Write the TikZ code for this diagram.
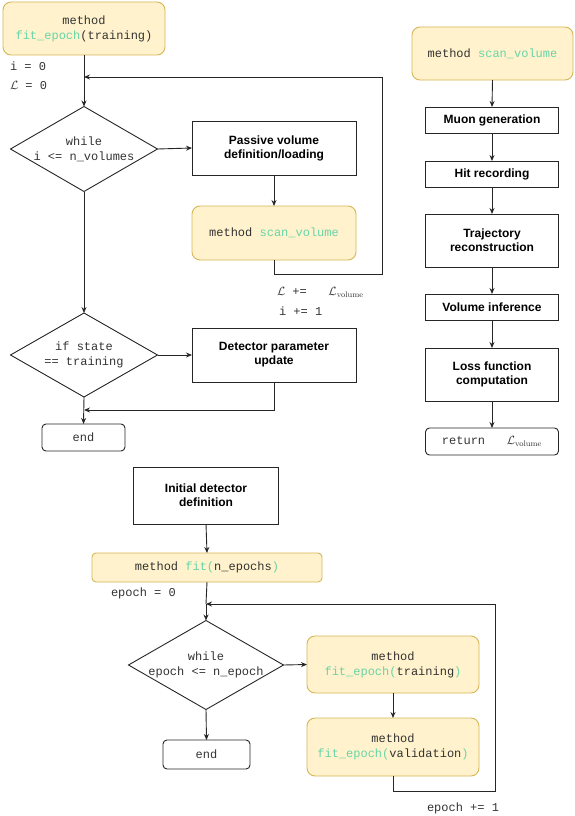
\documentclass[tikz,border=0pt]{standalone}
\usepackage[no-math]{fontspec}
\setmainfont{Liberation Sans}
\setsansfont{Liberation Sans}
\setmonofont{Liberation Mono}
\usetikzlibrary{shapes.geometric,arrows.meta}
\definecolor{methodfill}{HTML}{FFF2CC}
\definecolor{methodline}{HTML}{D6B656}
\definecolor{fngreen}{HTML}{67D5A8}
\definecolor{codegray}{HTML}{333333}
\newcommand{\fname}[1]{\textcolor{fngreen}{#1}}
\begin{document}
\begin{tikzpicture}[x=1pt,y=-1pt,
  every node/.style={inner sep=0pt,outer sep=0pt},
  line/.style={draw=black!85,line width=0.9pt},
  arrow/.style={line,-{Stealth[length=6pt,width=5pt]}},
  stepbox/.style={draw=black!85,line width=0.9pt,align=center,font=\sffamily\bfseries\fontsize{12}{14}\selectfont},
  methodbox/.style={draw=methodline,fill=methodfill,line width=0.9pt,rounded corners=8pt,align=center,text=codegray,font=\ttfamily\fontsize{12}{15}\selectfont},
  endbox/.style={draw=black!85,line width=0.9pt,rounded corners=4pt,text=codegray,font=\ttfamily\fontsize{12}{15}\selectfont},
  decision/.style={draw=black!85,line width=0.9pt,diamond},
  codetext/.style={align=center,text=codegray,font=\ttfamily\fontsize{12}{15}\selectfont}]
\useasboundingbox (0,0) rectangle (575,816);

% fit_epoch
\node[methodbox,minimum width=162,minimum height=53] (fitA) at (84,28.5) {method\\\fname{fit\_epoch}(training)};
\node[codetext,anchor=west] (initI) at (10,66) {i = 0};
\node[codetext,anchor=west] (initL) at (10,85) {$\mathcal{L}$ = 0};
\node[decision,minimum width=147,minimum height=85,label={[codetext]center:{while\\i <= n\_volumes}}] (whileA) at (84,149) {};
\node[stepbox,minimum width=164,minimum height=54] (volA) at (274,148) {Passive volume\\definition/loading};
\node[methodbox,minimum width=164,minimum height=54] (scanA) at (274,233) {method \fname{scan\_volume}};
\node[codetext,anchor=west] (incL) at (277,292) {$\mathcal{L}$ +=~~ $\mathcal{L}_{\mathrm{volume}}$};
\node[codetext,anchor=west] (incI) at (279,311) {i += 1};
\node[decision,minimum width=147,minimum height=84,label={[codetext]center:{if state\\== training}}] (ifA) at (84,355) {};
\node[stepbox,minimum width=164,minimum height=54] (updA) at (274,355) {Detector parameter\\update};
\node[endbox,minimum width=83,minimum height=27] (endA) at (83.5,437.5) {end};
\coordinate (loopA) at (84,77);
\coordinate (backA) at (382,274);
\coordinate (mergeA) at (84,410);
\draw[line] (fitA.south) -- (loopA);
\draw[arrow] (loopA) -- (whileA.north);
\draw[arrow] (whileA.east) -- (volA.west);
\draw[arrow] (volA.south) -- (scanA.north);
\draw[arrow] (scanA.south) |- (backA) |- (loopA);
\draw[arrow] (whileA.south) -- (ifA.north);
\draw[arrow] (ifA.east) -- (updA.west);
\draw[arrow] (updA.south) |- (mergeA);
\draw[arrow] (ifA.south) -- (endA.north);

% scan_volume
\node[methodbox,minimum width=161,minimum height=53] (scanB) at (492.5,53.5) {method \fname{scan\_volume}};
\node[stepbox,minimum width=133,minimum height=26] (muon) at (492,120) {Muon generation};
\node[stepbox,minimum width=133,minimum height=26] (hit) at (492,174) {Hit recording};
\node[stepbox,minimum width=133,minimum height=53] (traj) at (492,240.5) {Trajectory\\reconstruction};
\node[stepbox,minimum width=133,minimum height=26] (infer) at (492,307) {Volume inference};
\node[stepbox,minimum width=133,minimum height=53] (loss) at (492,374.5) {Loss function\\computation};
\node[endbox,minimum width=133,minimum height=27] (ret) at (492,441.5) {return~~ $\mathcal{L}_{\mathrm{volume}}$};
\draw[arrow] (scanB.south) -- (muon.north);
\draw[arrow] (muon.south) -- (hit.north);
\draw[arrow] (hit.south) -- (traj.north);
\draw[arrow] (traj.south) -- (infer.north);
\draw[arrow] (infer.south) -- (loss.north);
\draw[arrow] (loss.south) -- (ret.north);

% fit
\node[stepbox,minimum width=145,minimum height=57] (initD) at (206,495.5) {Initial detector\\definition};
\node[methodbox,rounded corners=4pt,minimum width=230,minimum height=29] (fitB) at (207,567.5) {method \fname{fit(}n\_epochs\fname{)}};
\node[codetext,anchor=west] (initE) at (111,593) {epoch = 0};
\node[decision,minimum width=155,minimum height=89,label={[codetext]center:{while\\epoch <= n\_epoch}}] (whileB) at (206,665) {};
\node[methodbox,minimum width=172,minimum height=57] (fitT) at (393,664.5) {method\\\fname{fit\_epoch(}training\fname{)}};
\node[methodbox,minimum width=172,minimum height=58] (fitV) at (393,747) {method\\\fname{fit\_epoch(}validation\fname{)}};
\node[codetext,anchor=west] (incE) at (427,808) {epoch += 1};
\node[endbox,minimum width=87,minimum height=29] (endB) at (206.5,754.5) {end};
\coordinate (loopB) at (206,604);
\coordinate (backB) at (495,791);
\draw[arrow] (initD.south) -- (fitB.north);
\draw[line] (fitB.south) -- (loopB);
\draw[arrow] (loopB) -- (whileB.north);
\draw[arrow] (whileB.east) -- (fitT.west);
\draw[arrow] (fitT.south) -- (fitV.north);
\draw[arrow] (fitV.south) |- (backB) |- (loopB);
\draw[arrow] (whileB.south) -- (endB.north);
\end{tikzpicture}
\end{document}
